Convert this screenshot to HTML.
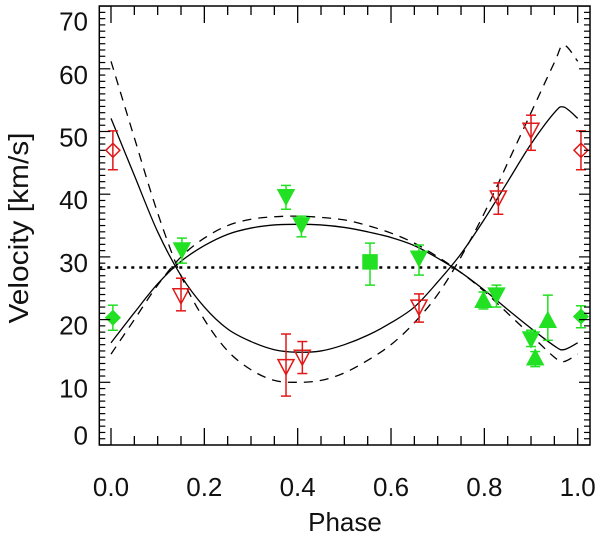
<!DOCTYPE html>
<html><head><meta charset="utf-8"><style>
html,body{margin:0;padding:0;background:#fff;}
svg{display:block;font-family:"Liberation Sans",Arial,sans-serif;}
</style></head><body>
<svg id="chart" width="600" height="542" viewBox="0 0 600 542" xmlns="http://www.w3.org/2000/svg">
<rect x="0" y="0" width="600" height="542" fill="#fff"/>
<g id="curves"></g>
<g id="marks"></g>
<g id="axes"></g>
<text x="345" y="531" font-size="26" text-anchor="middle" fill="#111">Phase</text>
<text x="0" y="0" font-size="28" text-anchor="middle" textLength="191" lengthAdjust="spacingAndGlyphs" fill="#111" transform="translate(28,228) rotate(-90)">Velocity [km/s]</text>
</svg>
<script>
const curvePhases = [0,0.05,0.1,0.15,0.2,0.25,0.3,0.35,0.4,0.45,0.5,0.55,0.6,0.65,0.7,0.75,0.8,0.85,0.9,0.95,0.97,1.0];
const primarySolid = [52.1,43,34,27,22,18.5,16.5,15.2,14.8,15,16,17.5,19.5,22,26,30.5,36,42,48,53,53.9,52.1];
const secondarySolid = [16.3,21.1,25.7,29.3,31.8,33.6,34.6,35.1,35.2,35.1,34.7,34,33.1,31.8,29.8,27.5,24.7,21.6,18.6,15.8,15.2,16.3];
const primaryDashed = [61.2,49,37,27,20,15,12,10.3,10,10.3,11.5,13.5,16,19.5,24,30,37,45,53,61,63.8,61.2];
const secondaryDashed = [14.5,20,25.5,30,33,35,36,36.4,36.5,36.3,35.9,35,33.8,32.2,30,27.5,24.5,21,17.5,14,13.3,14.5];
const systemicVelocity = 28.3;

const redPhases = [0.004,1.007,0.15,0.375,0.41,0.66,0.83,0.9];
const redValues = [47,47,23.8,12.5,14,22,39.4,50.2];
const redErrLow = [43.9,43.9,21.4,7.8,11.4,19.6,36.8,47];
const redErrHigh = [50.1,50.1,26.6,17.7,16.5,24.1,41.8,52.6];
const redShapes = ['diamond','diamond','tri-down','tri-down','tri-down','tri-down','tri-down','tri-down'];

const greenPhases = [0.004,1.007,0.152,0.375,0.408,0.555,0.66,0.798,0.826,0.9,0.909,0.936];
const greenValues = [20.3,20.5,31.1,39.6,35.1,29.2,29.8,23.1,23.9,16.9,13.9,19.9];
const greenErrLow = [18.3,18.7,29,37.6,33.2,25.5,27.1,21.7,22,15.7,12.5,16.7];
const greenErrHigh = [22.3,22.2,33,41.4,36.5,32.2,31.9,24.4,25.5,18.3,14.9,23.9];
const greenShapes = ['diamond','diamond','tri-down','tri-down','tri-down','square','tri-down','tri-up','tri-down','tri-down','tri-up','tri-up'];

const xTickLabels = ['0.0','0.2','0.4','0.6','0.8','1.0'];
const yTickLabels = ['0','10','20','30','40','50','60','70'];

const NS='http://www.w3.org/2000/svg';
const L=99.3,R=590,T=6,B=445;
function X(p){return 111+466.7*p;}
function Y(v){return 445-6.27*v;}
function el(tag,attrs,parent){const e=document.createElementNS(NS,tag);for(const k in attrs)e.setAttribute(k,attrs[k]);parent.appendChild(e);return e;}

const curves=document.getElementById('curves');
function spline(vals){
  const pts=curvePhases.map((p,i)=>[X(p),Y(vals[i])]);
  let d='M'+pts[0][0].toFixed(2)+','+pts[0][1].toFixed(2);
  for(let i=0;i<pts.length-1;i++){
    const p0=pts[Math.max(0,i-1)],p1=pts[i],p2=pts[i+1],p3=pts[Math.min(pts.length-1,i+2)];
    const c1=[p1[0]+(p2[0]-p0[0])/6,p1[1]+(p2[1]-p0[1])/6];
    const c2=[p2[0]-(p3[0]-p1[0])/6,p2[1]-(p3[1]-p1[1])/6];
    d+=' C'+c1.map(v=>v.toFixed(2)).join(',')+' '+c2.map(v=>v.toFixed(2)).join(',')+' '+p2.map(v=>v.toFixed(2)).join(',');
  }
  return d;
}
let c;
c=el('path',{d:spline(primarySolid),fill:'none',stroke:'#000','stroke-width':1.3},curves);


c=el('path',{d:spline(secondarySolid),fill:'none',stroke:'#000','stroke-width':1.3},curves);


c=el('path',{d:spline(primaryDashed),fill:'none',stroke:'#000','stroke-width':1.3,'stroke-dasharray':'9,7'},curves);


c=el('path',{d:spline(secondaryDashed),fill:'none',stroke:'#000','stroke-width':1.3,'stroke-dasharray':'9,7'},curves);


c=el('line',{x1:L,x2:R,y1:Y(systemicVelocity),y2:Y(systemicVelocity),stroke:'#000','stroke-width':2.5,'stroke-dasharray':'3,5'},curves);



const marks=document.getElementById('marks');
function drawPoint(p,v,lo,hi,shape,color,filled,name){
  const g=el('g',{},marks);
  
  
  const x=X(p),y=Y(v),ylo=Y(lo),yhi=Y(hi);
  el('line',{x1:x,x2:x,y1:yhi,y2:ylo,stroke:color,'stroke-width':1.5},g);
  el('line',{x1:x-5,x2:x+5,y1:yhi,y2:yhi,stroke:color,'stroke-width':1.5},g);
  el('line',{x1:x-5,x2:x+5,y1:ylo,y2:ylo,stroke:color,'stroke-width':1.5},g);
  const fill=filled?color:'none';
  let pts;
  if(shape==='diamond'){pts=[[x,y-7],[x+7,y],[x,y+7],[x-7,y]];}
  else if(shape==='tri-down'){pts=[[x-8,y-7],[x+8,y-7],[x,y+8]];}
  else if(shape==='tri-up'){pts=[[x-8,y+7],[x+8,y+7],[x,y-8]];}
  else {pts=[[x-7,y-7],[x+7,y-7],[x+7,y+7],[x-7,y+7]];}
  el('polygon',{points:pts.map(q=>q.map(n=>n.toFixed(1)).join(',')).join(' '),fill:fill,stroke:color,'stroke-width':1.5},g);
}
for(let i=0;i<redPhases.length;i++){
  drawPoint(redPhases[i],redValues[i],redErrLow[i],redErrHigh[i],redShapes[i],'#e01818',false,'primary-point');
}
for(let i=0;i<greenPhases.length;i++){
  drawPoint(greenPhases[i],greenValues[i],greenErrLow[i],greenErrHigh[i],greenShapes[i],'#22e022',true,'secondary-point');
}

const axes=document.getElementById('axes');
let a=el('rect',{x:L,y:T,width:R-L,height:B-T,fill:'none',stroke:'#000','stroke-width':1.5},axes);


for(let k=0;k<=20;k++){
  const p=k*0.05,x=X(p),len=(k%4===0)?17:9;
  if(x>R)continue;
  el('line',{x1:x,x2:x,y1:B,y2:B-len,stroke:'#000','stroke-width':1.3},axes);
  el('line',{x1:x,x2:x,y1:T,y2:T+len,stroke:'#000','stroke-width':1.3},axes);
}
for(let v=0;v<=70;v++){
  const y=Y(v),len=(v%10===0)?11:6;
  el('line',{x1:L,x2:L+len,y1:y,y2:y,stroke:'#000','stroke-width':1.2},axes);
  el('line',{x1:R,x2:R-len,y1:y,y2:y,stroke:'#000','stroke-width':1.2},axes);
}
for(let i=0;i<xTickLabels.length;i++){
  const t=el('text',{x:X(i*0.2),y:496,'font-size':26,'text-anchor':'middle',fill:'#111'},axes);
  t.textContent=xTickLabels[i];
  
  
}
for(let i=0;i<yTickLabels.length;i++){
  const v=i*10;
  let cy=Y(v)+5.5;
  if(v===0)cy=435;
  if(v===70)cy=Math.max(cy,21);
  const t=el('text',{x:88,y:cy+9.5,'font-size':26,'text-anchor':'end',fill:'#111'},axes);
  t.textContent=yTickLabels[i];
  
  
}
</script>
</body></html>
